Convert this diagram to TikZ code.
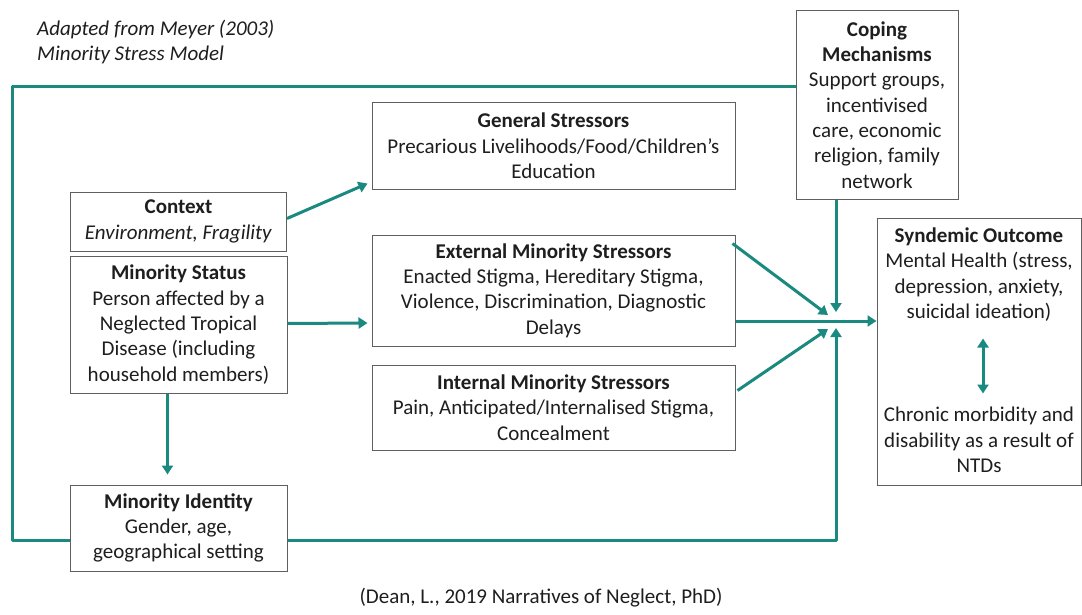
\documentclass[tikz,border=0pt]{standalone}
\usepackage{fontspec}
\setmainfont{Carlito}
\usetikzlibrary{arrows.meta,calc}
\definecolor{teal1}{RGB}{26,138,128}
\definecolor{boxgray}{RGB}{95,95,95}
\definecolor{txt}{RGB}{30,30,30}
\tikzset{
  box/.style={draw=boxgray, line width=1pt, inner sep=0pt, align=center, text=txt,
    font=\fontsize{21}{25.3}\selectfont},
  lbl/.style={inner sep=0pt, align=center, text=txt, font=\fontsize{21}{25.3}\selectfont},
  conn/.style={draw=teal1, line width=3pt},
  arr/.style={conn, -{Triangle[width=11pt,length=9pt]}},
  darr/.style={conn, {Triangle[width=11pt,length=9pt]}-{Triangle[width=11pt,length=9pt]}},
}
\begin{document}
\begin{tikzpicture}[x=1pt,y=-1pt]
\useasboundingbox (0,0) rectangle (1082,615);
\fill[white] (0,0) rectangle (1082,615);

\node[lbl, anchor=west, align=left, font=\fontsize{21}{25.3}\selectfont\itshape] (title) at (37,42)
  {Adapted from Meyer (2003)\\Minority Stress Model};

\node[box, minimum width=162, minimum height=188] (coping) at (877,105)
  {\textbf{Coping}\\\textbf{Mechanisms}\\Support groups,\\incentivised\\care, economic\\religion, family\\network};
\node[box, minimum width=363, minimum height=86] (general) at (553.5,146)
  {\textbf{General Stressors}\\Precarious Livelihoods/Food/Children’s\\Education};
\node[box, minimum width=216, minimum height=59] (context) at (178.5,221.5)
  {\textbf{Context}\\\textit{Environment, Fragility}};
\node[box, minimum width=217, minimum height=137] (status) at (178.5,324.5)
  {\textbf{Minority Status}\\Person affected by a\\Neglected Tropical\\Disease (including\\household members)};
\node[box, minimum width=363, minimum height=111] (external) at (553.5,290.5)
  {\textbf{External Minority Stressors}\\Enacted Stigma, Hereditary Stigma,\\Violence, Discrimination, Diagnostic\\Delays};
\node[box, minimum width=363, minimum height=85] (internal) at (553.5,407.5)
  {\textbf{Internal Minority Stressors}\\Pain, Anticipated/Internalised Stigma,\\Concealment};
\node[box, minimum width=217, minimum height=86] (identity) at (178.5,528)
  {\textbf{Minority Identity}\\Gender, age,\\geographical setting};

\node[box, minimum width=204, minimum height=267] (synd) at (979,351.5) {};
\node[lbl] (syndtop) at (979,274.5)
  {\textbf{Syndemic Outcome}\\Mental Health (stress,\\depression, anxiety,\\suicidal ideation)};
\node[lbl] (syndbot) at (979,440)
  {Chronic morbidity and\\disability as a result of\\NTDs};

\node[lbl] (caption) at (541,598) {(Dean, L., 2019 Narratives of Neglect, PhD)};

\coordinate (j) at (836,321);
\coordinate (tl) at (12,87);
\coordinate (bl) at (12,540);
\coordinate (br) at (836,540);

% feedback loop
\draw[conn, line join=round] ($(coping.west)+(0,-18)$) -- (tl) -- (bl) -- ($(identity.west)+(0,12)$);
\draw[arr, line join=round] ($(identity.east)+(0,12)$) -- (br) -- ($(j)+(0,7)$);

% arrows into junction
\draw[arr] (j |- coping.south) -- ($(j)+(0,-9)$);
\draw[arr] ($(external.north east)+(-3,9)$) -- ($(j)+(-8,-6)$);
\draw[arr] ($(internal.east)+(2,-17)$) -- ($(j)+(-8,8)$);
\draw[arr] (external.east |- j) -- (synd.west |- j);

% left arrows
\draw[arr] ($(context.east)+(0,-3)$) -- ($(general.south west)+(-4,-6)$);
\draw[arr] ($(status.east)+(0,-1)$) -- ($(external.west)+(-4,32.5)$);
\draw[arr] ($(status.south)+(-11,0)$) -- ($(identity.north)+(-11,-10)$);

% double arrow
\draw[darr] ($(synd.center)+(4,-13)$) -- ($(synd.center)+(4,42)$);
\end{tikzpicture}
\end{document}
